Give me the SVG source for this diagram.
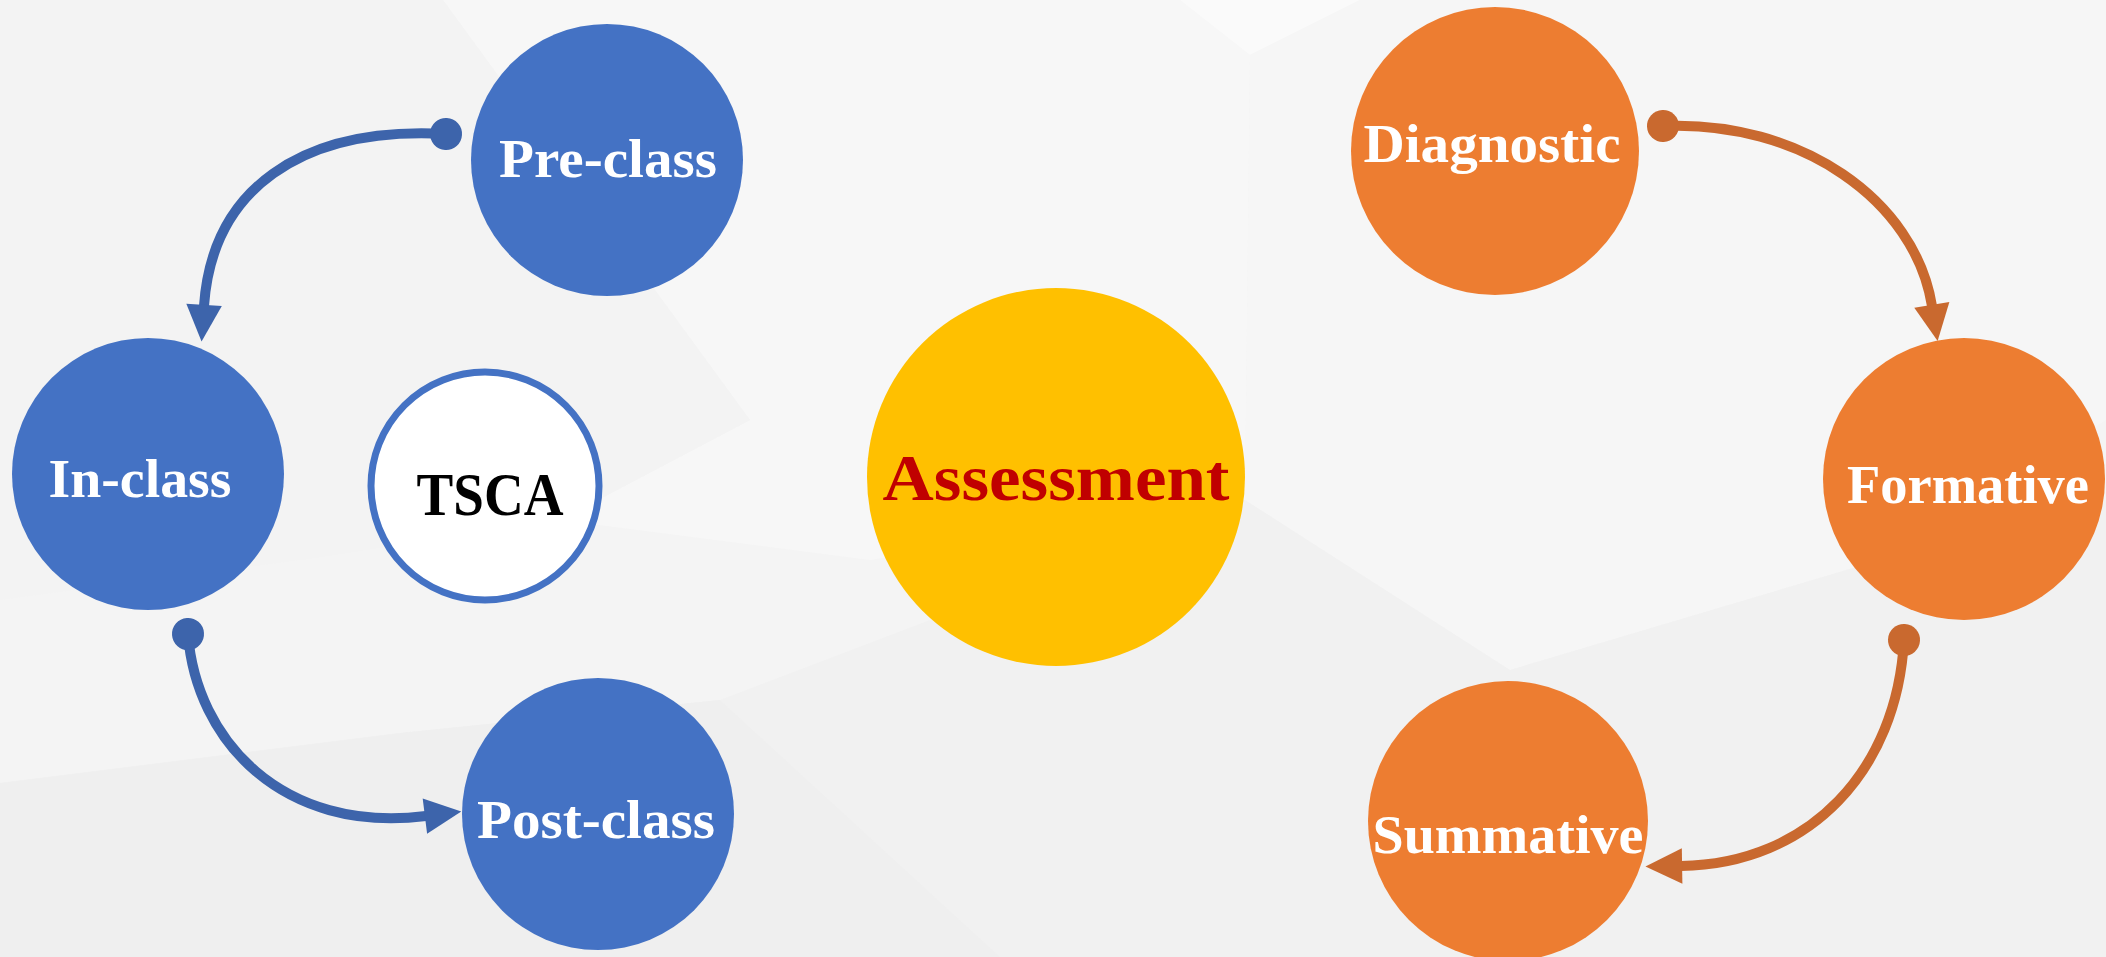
<svg xmlns="http://www.w3.org/2000/svg" width="2106" height="957" viewBox="0 0 2106 957">
  <style>
    .lbl { font-family: "Liberation Serif", "Times New Roman", serif; font-weight: bold; text-anchor: middle; }
    .w { fill: #FFFFFF; font-size: 55px; }
    .blue { fill: #4472C4; }
    .orange { fill: #ED7D31; }
    .conn { fill: none; stroke-width: 10; stroke-linecap: butt; }
    .cb { stroke: #3D64AB; }
    .co { stroke: #C9692F; }
  </style>
  <defs>
    <marker id="arrowB" markerUnits="userSpaceOnUse" markerWidth="40" markerHeight="40" refX="0" refY="0" viewBox="-2 -18 36 36" orient="auto" overflow="visible">
      <path d="M-1,-16 L32,0 L-1,16 Z" fill="#3D64AB"/>
    </marker>
    <marker id="dotB" markerUnits="userSpaceOnUse" markerWidth="40" markerHeight="40" refX="0" refY="0" viewBox="-20 -20 40 40" orient="auto" overflow="visible">
      <circle cx="0" cy="0" r="16" fill="#3D64AB"/>
    </marker>
    <marker id="arrowO" markerUnits="userSpaceOnUse" markerWidth="40" markerHeight="40" refX="0" refY="0" viewBox="-2 -18 36 36" orient="auto" overflow="visible">
      <path d="M-1,-16 L32,0 L-1,16 Z" fill="#C9692F"/>
    </marker>
    <marker id="dotO" markerUnits="userSpaceOnUse" markerWidth="40" markerHeight="40" refX="0" refY="0" viewBox="-20 -20 40 40" orient="auto" overflow="visible">
      <circle cx="0" cy="0" r="16" fill="#C9692F"/>
    </marker>
  </defs>

  <!-- background -->
  <g id="background">
    <rect x="0" y="0" width="2106" height="957" fill="#F4F4F4"/>
    <polygon points="443,0 1180,0 1250,55 1245,500 870,560 560,520 750,420" fill="#F7F7F7"/>
    <polygon points="1180,0 1250,55 1360,0" fill="#FAFAFA"/>
    <polygon points="1250,55 1360,0 2106,0 2106,420 1880,560 1510,670 1245,500" fill="#F6F6F6"/>
    <polygon points="0,783 400,733 720,700 1245,500 1510,670 1880,560 2106,500 2106,957 0,957" fill="#F1F1F1"/>
    <polygon points="0,783 400,733 720,700 1000,957 0,957" fill="#EFEFEF"/>
    <polygon points="0,0 443,0 750,420 560,520 300,560 0,600" fill="#F3F3F3"/>
  </g>

  <!-- connectors -->
  <g id="connectors">
    <path class="conn cb" d="M446,134 C300,126 212,190 204,306" marker-start="url(#dotB)" marker-end="url(#arrowB)"/>
    <path class="conn cb" d="M188,634 C196,740 282,834 426,816" marker-start="url(#dotB)" marker-end="url(#arrowB)"/>
    <path class="conn co" d="M1663,126 C1800,120 1915,200 1932,306" marker-start="url(#dotO)" marker-end="url(#arrowO)"/>
    <path class="conn co" d="M1904,640 C1897,770 1810,864 1681,866" marker-start="url(#dotO)" marker-end="url(#arrowO)"/>
  </g>

  <!-- TSCA cycle -->
  <g id="node-preclass">
    <circle class="blue" cx="607" cy="160" r="136"/>
    <text class="lbl w" x="608" y="177" textLength="218" lengthAdjust="spacingAndGlyphs">Pre-class</text>
  </g>
  <g id="node-inclass">
    <circle class="blue" cx="148" cy="474" r="136"/>
    <text class="lbl w" x="140" y="497" textLength="183" lengthAdjust="spacingAndGlyphs">In-class</text>
  </g>
  <g id="node-postclass">
    <circle class="blue" cx="598" cy="814" r="136"/>
    <text class="lbl w" x="596" y="838" textLength="238" lengthAdjust="spacingAndGlyphs">Post-class</text>
  </g>
  <g id="node-tsca">
    <circle cx="485" cy="486" r="114" fill="#FFFFFF" stroke="#4472C4" stroke-width="7"/>
    <text class="lbl" x="490" y="515" font-size="62" fill="#000000" textLength="147" lengthAdjust="spacingAndGlyphs">TSCA</text>
  </g>

  <!-- center -->
  <g id="node-assessment">
    <circle cx="1056" cy="477" r="189" fill="#FFC000"/>
    <text class="lbl" x="1056" y="500" font-size="66" fill="#C00000" textLength="347" lengthAdjust="spacingAndGlyphs">Assessment</text>
  </g>

  <!-- assessment cycle -->
  <g id="node-diagnostic">
    <circle class="orange" cx="1495" cy="151" r="144"/>
    <text class="lbl w" x="1492" y="162" textLength="257" lengthAdjust="spacingAndGlyphs">Diagnostic</text>
  </g>
  <g id="node-formative">
    <circle class="orange" cx="1964" cy="479" r="141"/>
    <text class="lbl w" x="1968" y="503" textLength="242" lengthAdjust="spacingAndGlyphs">Formative</text>
  </g>
  <g id="node-summative">
    <circle class="orange" cx="1508" cy="821" r="140"/>
    <text class="lbl w" x="1508" y="853" textLength="271" lengthAdjust="spacingAndGlyphs">Summative</text>
  </g>
</svg>
